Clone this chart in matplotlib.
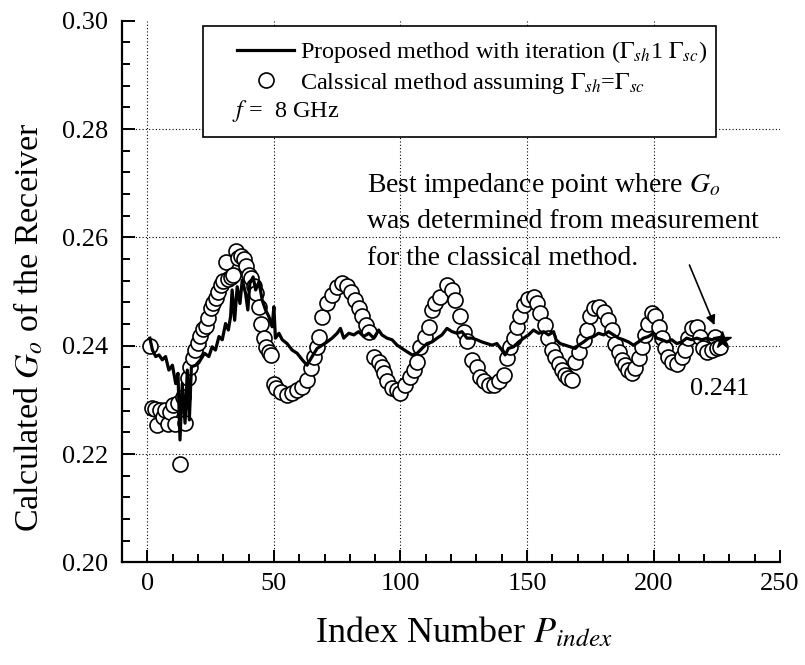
import matplotlib
matplotlib.use("Agg")
import matplotlib.pyplot as plt
from matplotlib.patches import Rectangle
from matplotlib.ticker import MultipleLocator, AutoMinorLocator, FormatStrFormatter

plt.rcParams["font.family"] = ["Liberation Serif", "DejaVu Serif"]
plt.rcParams["mathtext.fontset"] = "stix"

# proposed method (iterative, Gamma_sh != Gamma_sc)
proposed_idx = [1, 2, 3.3, 4.6, 5.9, 7.2, 8.5, 9.9, 11.2, 12.1, 12.9, 13.8, 14.9, 15.8, 16.6,
                17.4, 19.1, 21.0, 22.6, 24.3, 25.6, 26.9, 28.3, 29.6, 30.9, 32.0, 32.9, 33.5,
                34.5, 35.5, 36.6, 37.5, 38.8, 39.7, 40.5, 41.8, 42.8, 44.1, 45.4, 46.7, 48.0,
                49.3, 50.0, 50.6, 52.0, 53.3, 55.2, 57.2, 59.2, 61.2, 63.1, 65.1, 67.1, 69.1,
                71.0, 73.0, 75.0, 76.3, 77.6, 79.6, 81.6, 83.5, 85.5, 87.5, 89.5, 91.4, 92.7,
                94.7, 96.7, 98.7, 100.6, 102.6, 104.6, 106.6, 108.5, 110.5, 112.5, 114.5,
                116.4, 118.4, 120.4, 122.4, 124.3, 126.3, 128.3, 130.2, 132.2, 134.2, 136.2,
                138.1, 140.1, 141.4, 142.7, 144.7, 146.7, 148.7, 150.6, 152.6, 154.6, 156.6,
                158.5, 160.5, 161.5, 163.1, 165.1, 167.1, 169.1, 170.4, 172.4, 174.3, 176.3,
                178.3, 180.3, 182.2, 184.2, 186.2, 188.1, 190.1, 192.1, 194.1, 196.0, 198.0,
                200.0, 201.3, 203.3, 205.3, 207.2, 209.2, 211.2, 213.1, 215.1, 217.1, 219.1,
                221.0, 223.0, 225.0, 227.0]
proposed_go = [0.2414, 0.2392, 0.2380, 0.2383, 0.2374, 0.2380, 0.2355, 0.2364, 0.2330, 0.2349,
               0.2226, 0.2330, 0.2257, 0.2355, 0.2263, 0.2361, 0.2364, 0.2374, 0.2386, 0.2380,
               0.2398, 0.2392, 0.2417, 0.2411, 0.2441, 0.2429, 0.2454, 0.2503, 0.2447, 0.2509,
               0.2478, 0.2521, 0.2497, 0.2466, 0.2515, 0.2527, 0.2503, 0.2518, 0.2484, 0.2466,
               0.2454, 0.2435, 0.2472, 0.2414, 0.2423, 0.2411, 0.2404, 0.2392, 0.2386, 0.2374,
               0.2364, 0.2380, 0.2395, 0.2401, 0.2407, 0.2414, 0.2423, 0.2432, 0.2414, 0.2423,
               0.2420, 0.2426, 0.2417, 0.2423, 0.2414, 0.2429, 0.2420, 0.2414, 0.2411, 0.2401,
               0.2395, 0.2389, 0.2383, 0.2386, 0.2395, 0.2404, 0.2407, 0.2414, 0.2420, 0.2432,
               0.2426, 0.2423, 0.2426, 0.2414, 0.2414, 0.2411, 0.2407, 0.2404, 0.2401, 0.2404,
               0.2392, 0.2383, 0.2395, 0.2398, 0.2407, 0.2414, 0.2420, 0.2429, 0.2423, 0.2426,
               0.2420, 0.2426, 0.2411, 0.2404, 0.2401, 0.2398, 0.2395, 0.2401, 0.2407, 0.2414,
               0.2417, 0.2423, 0.2420, 0.2426, 0.2420, 0.2414, 0.2411, 0.2407, 0.2401, 0.2407,
               0.2414, 0.2417, 0.2423, 0.2414, 0.2411, 0.2407, 0.2411, 0.2404, 0.2407, 0.2414,
               0.2411, 0.2414, 0.2411, 0.2414, 0.2411, 0.2414, 0.2416]

# classical method (Gamma_sh = Gamma_sc)
classical_idx = [1, 2, 3, 4, 5, 6, 7, 8, 9, 10, 11, 12, 13, 14, 15, 16, 17, 18, 19, 20, 21, 22,
                 23, 24, 25, 26, 27, 28, 29, 30, 31, 32, 33, 34, 35, 36, 37, 38, 39, 40, 41, 42,
                 43, 44, 45, 46, 47, 48, 49, 50, 51, 53, 55, 57, 59, 61, 63, 64.5, 65.8, 67,
                 67.7, 69, 71, 73, 75, 77, 79, 80.5, 82, 83.5, 85, 86.2, 87.5, 89.5, 91.4, 92.7,
                 93.4, 94.7, 96.7, 98.7, 100.0, 102.0, 103.9, 105.2, 106.6, 107.9, 109.8,
                 111.2, 112.5, 113.8, 115.8, 118.4, 120.4, 121.7, 123.7, 125.0, 126.3, 128.3,
                 130.2, 131.6, 132.9, 134.9, 136.8, 138.8, 140.8, 142.1, 143.4, 144.7, 146.0,
                 147.4, 148.7, 150.6, 152.6, 153.9, 155.2, 157.2, 158.5, 159.9, 161.2, 162.5,
                 163.8, 165.1, 166.4, 167.8, 169.1, 170.4, 172.4, 173.7, 175.0, 176.3, 178.3,
                 180.3, 182.2, 183.5, 184.9, 186.2, 187.5, 188.8, 190.1, 191.4, 192.8, 194.1,
                 195.4, 196.7, 198.0, 199.3, 200.6, 202.0, 203.3, 204.6, 205.9, 207.2, 209.2,
                 211.2, 212.5, 213.8, 215.1, 217.1, 218.4, 219.7, 221.0, 223.0, 224.3, 224.9,
                 226.3]
classical_go = [0.2400, 0.2285, 0.2283, 0.2253, 0.2282, 0.2268, 0.2281, 0.2256, 0.2278, 0.2290,
                0.2255, 0.2295, 0.2181, 0.2305, 0.2257, 0.2340, 0.2360, 0.2378, 0.2392, 0.2405,
                0.2418, 0.2430, 0.2436, 0.2452, 0.2470, 0.2478, 0.2488, 0.2500, 0.2512, 0.2520,
                0.2555, 0.2524, 0.2527, 0.2530, 0.2575, 0.2562, 0.2565, 0.2560, 0.2548, 0.2530,
                0.2525, 0.2510, 0.2497, 0.2472, 0.2440, 0.2414, 0.2398, 0.2389, 0.2383, 0.2330,
                0.2321, 0.2315, 0.2309, 0.2312, 0.2318, 0.2324, 0.2337, 0.2358, 0.2380, 0.2398,
                0.2417, 0.2453, 0.2478, 0.2494, 0.2509, 0.2515, 0.2510, 0.2500, 0.2484, 0.2469,
                0.2454, 0.2438, 0.2426, 0.2380, 0.2370, 0.2361, 0.2349, 0.2334, 0.2321, 0.2318,
                0.2312, 0.2327, 0.2343, 0.2355, 0.2370, 0.2398, 0.2417, 0.2435, 0.2466, 0.2478,
                0.2490, 0.2512, 0.2503, 0.2484, 0.2454, 0.2426, 0.2408, 0.2374, 0.2361, 0.2343,
                0.2334, 0.2327, 0.2327, 0.2334, 0.2346, 0.2377, 0.2398, 0.2414, 0.2435, 0.2454,
                0.2475, 0.2487, 0.2490, 0.2478, 0.2460, 0.2438, 0.2414, 0.2392, 0.2380, 0.2367,
                0.2355, 0.2346, 0.2340, 0.2337, 0.2370, 0.2389, 0.2410, 0.2429, 0.2454, 0.2469,
                0.2472, 0.2463, 0.2447, 0.2429, 0.2404, 0.2389, 0.2374, 0.2364, 0.2355, 0.2349,
                0.2358, 0.2377, 0.2398, 0.2420, 0.2441, 0.2460, 0.2454, 0.2435, 0.2414, 0.2395,
                0.2380, 0.2370, 0.2367, 0.2380, 0.2392, 0.2414, 0.2432, 0.2435, 0.2417, 0.2395,
                0.2389, 0.2392, 0.2417, 0.2395, 0.2398]

best_idx = 227
best_go = 0.241

fig = plt.figure(figsize=(8.05, 6.65), dpi=100)
ax = fig.add_axes([0.1516, 0.1544, 0.8174, 0.8143])

for gx in [0, 50, 100, 150, 200]:
    ax.axvline(gx, color="black", linestyle=(0, (1, 2)), linewidth=0.8, zorder=0)
for gy in [0.22, 0.24, 0.26, 0.28]:
    ax.axhline(gy, color="black", linestyle=(0, (1, 2)), linewidth=0.8, zorder=0)

circ, = ax.plot(classical_idx, classical_go, "o", markersize=10.8, markerfacecolor="white",
                markeredgecolor="black", markeredgewidth=1.2, zorder=2)
line, = ax.plot(proposed_idx, proposed_go, "-", color="black", linewidth=2.3, zorder=3)
ax.plot([best_idx], [best_go], "*", color="black", markersize=13, zorder=4)

ax.set_xlim(-10, 250)
ax.set_ylim(0.20, 0.30)
ax.xaxis.set_major_locator(MultipleLocator(50))
ax.xaxis.set_minor_locator(AutoMinorLocator(5))
ax.yaxis.set_major_locator(MultipleLocator(0.02))
ax.yaxis.set_minor_locator(AutoMinorLocator(5))
ax.yaxis.set_major_formatter(FormatStrFormatter("%.2f"))

for side in ["top", "right"]:
    ax.spines[side].set_visible(False)
for side in ["left", "bottom"]:
    ax.spines[side].set_linewidth(1.6)
ax.tick_params(which="both", direction="in", width=1.4, labelsize=19)
ax.tick_params(which="major", length=9)
ax.tick_params(which="minor", length=5.5)
ax.tick_params(axis="x", pad=8)
ax.tick_params(axis="y", pad=10)

ax.set_xlabel(r"Index Number $P_{index}$", fontsize=26)
ax.set_ylabel(r"Calculated $G_o$ of the Receiver", fontsize=24.5)
ax.xaxis.set_label_coords(0.52, -0.098)
ax.yaxis.set_label_coords(-0.117, 0.435)

# legend frame holds the two series plus the frequency note
frame = Rectangle((0.1231, 0.7854), 0.7796, 0.205, transform=ax.transAxes,
                  facecolor="white", edgecolor="black", linewidth=1.2, zorder=4, clip_on=False)
ax.add_patch(frame)
leg = ax.legend([line, circ],
                [r"Proposed method with iteration ($\Gamma_{sh}$1 $\Gamma_{sc}$)",
                 r"Calssical method assuming $\Gamma_{sh}$=$\Gamma_{sc}$"],
                loc="upper left", bbox_to_anchor=(0.1748, 0.966), frameon=False,
                borderpad=0, borderaxespad=0, handlelength=2.35, handletextpad=0.25,
                labelspacing=0.22, fontsize=17.5)
leg.set_zorder(5)
ax.text(0.1672, 0.8334, r"$f$ =  8 GHz", transform=ax.transAxes, fontsize=17.5,
        va="center", ha="left", zorder=6)

ax.text(86.9, 0.2684, r"Best impedance point where $G_o$", fontsize=20)
ax.text(86.9, 0.2617, "was determined from measurement", fontsize=20)
ax.text(86.9, 0.2549, "for the classical method.", fontsize=20)
ax.annotate("", xy=(224.1, 0.2438), xytext=(214.2, 0.2549),
            arrowprops=dict(arrowstyle="-|>", color="black", linewidth=1.2,
                            mutation_scale=14, shrinkA=0, shrinkB=0))
ax.text(214.4, 0.2320, f"{best_go:.3f}", fontsize=19, va="center", ha="left")

fig.savefig("out.png", dpi=100)
